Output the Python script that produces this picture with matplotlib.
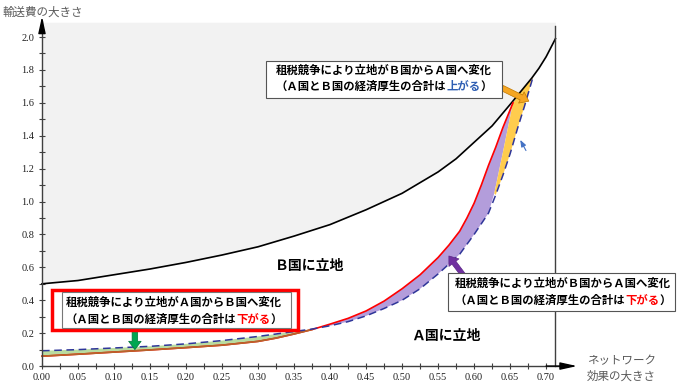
import numpy as np
import matplotlib
matplotlib.use("Agg")
import matplotlib.pyplot as plt
from matplotlib.patches import Rectangle, Polygon

plt.rcParams['font.family'] = ['Noto Sans CJK JP', 'DejaVu Sans']

# boundary between "B国に立地" and the grey area (black curve)
black_x = [0.0, 0.05, 0.10, 0.15, 0.20, 0.25, 0.30, 0.35, 0.40, 0.45,
           0.50, 0.55, 0.575, 0.60, 0.625, 0.65, 0.665, 0.68, 0.69, 0.70, 0.713]
black_y = [0.50, 0.52, 0.555, 0.59, 0.63, 0.675, 0.725, 0.79, 0.86, 0.95,
           1.05, 1.18, 1.26, 1.36, 1.46, 1.59, 1.67, 1.75, 1.81, 1.88, 1.99]

# original A/B boundary (red)
red_x = [0.0, 0.05, 0.10, 0.15, 0.20, 0.25, 0.30, 0.325, 0.35, 0.375,
         0.40, 0.425, 0.45, 0.475, 0.50, 0.525, 0.55, 0.565, 0.58, 0.59,
         0.60, 0.61, 0.62, 0.63, 0.64, 0.654]
red_y = [0.06, 0.072, 0.085, 0.098, 0.112, 0.127, 0.15, 0.17, 0.195, 0.222,
         0.255, 0.29, 0.335, 0.395, 0.47, 0.555, 0.66, 0.735, 0.82, 0.90,
         0.99, 1.10, 1.22, 1.33, 1.45, 1.60]

# boundary under tax competition (dashed)
dash_x = [0.0, 0.05, 0.10, 0.15, 0.20, 0.25, 0.30, 0.325, 0.35, 0.375,
          0.40, 0.425, 0.45, 0.475, 0.50, 0.525, 0.55, 0.565, 0.58, 0.59,
          0.60, 0.61, 0.62, 0.63, 0.64, 0.65, 0.66, 0.67, 0.682]
dash_y = [0.093, 0.10, 0.11, 0.12, 0.135, 0.155, 0.18, 0.195, 0.21, 0.225,
          0.245, 0.27, 0.305, 0.35, 0.40, 0.47, 0.56, 0.62, 0.68, 0.74,
          0.80, 0.865, 0.93, 1.04, 1.16, 1.29, 1.44, 1.58, 1.76]

# where red and dashed cross
cross_x, cross_y = 0.385, 0.232
# welfare-neutral divider between purple and yellow regions
div_x = [0.628, 0.641, 0.654]
div_y = [1.05, 1.32, 1.60]

y_top = 2.09
x_wall = 0.713

y_ticks = np.round(np.arange(0, 2.01, 0.2), 1)
x_ticks = np.round(np.arange(0, 0.701, 0.05), 2)

fig = plt.figure(figsize=(6.88, 3.84), dpi=100)
ax = fig.add_axes([0, 0, 1, 1])
ax.set_xlim(-0.0583, 0.897)
ax.set_ylim(-0.109, 2.225)

# grey region above the black curve
ax.fill_between(black_x, black_y, y_top, color='#f2f2f2', lw=0, zorder=1)

# green: A -> B
n_g = sum(1 for v in red_x if v < cross_x)
green = list(zip(red_x[:n_g], red_y[:n_g])) + [(cross_x, cross_y)] + \
    list(zip(dash_x[:n_g], dash_y[:n_g]))[::-1]
ax.add_patch(Polygon(green, closed=True, fc='#b9dca0', ec='none', zorder=2))

# purple: B -> A, welfare down
red_up = [(x, y) for x, y in zip(red_x, red_y) if x > cross_x]
dash_mid = [(x, y) for x, y in zip(dash_x, dash_y) if cross_x < x < div_x[0]]
purple = [(cross_x, cross_y)] + red_up + list(zip(div_x, div_y))[::-1] + dash_mid[::-1]
ax.add_patch(Polygon(purple, closed=True, fc='#b39ddb', ec='none', zorder=2))

# yellow: B -> A, welfare up
black_seg = [(x, y) for x, y in zip(black_x, black_y) if div_x[-1] < x < dash_x[-1]]
dash_top = [(x, y) for x, y in zip(dash_x, dash_y) if x > div_x[0]]
yellow = list(zip(div_x, div_y)) + black_seg + dash_top[::-1]
ax.add_patch(Polygon(yellow, closed=True, fc='#ffcc4d', ec='none', zorder=2))

# lines
ax.plot(black_x, black_y, color='black', lw=1.2, zorder=4)
ax.plot(red_x, red_y, color='#ff0000', lw=1.2, zorder=4)
ax.plot(red_x[:n_g], red_y[:n_g], color='#b5652b', lw=1.2, zorder=4)
ax.plot(dash_x, dash_y, color='#2f3699', lw=1.1, ls=(0, (5, 3)), zorder=4)
ax.plot([x_wall, x_wall], [0, 2.07], color='#404040', lw=1.0, zorder=4)

# axes
for side in ['top', 'right']:
    ax.spines[side].set_visible(False)
ax.spines['left'].set_position(('data', 0))
ax.spines['bottom'].set_position(('data', 0))
ax.spines['left'].set_bounds(0, 2.1)
ax.spines['bottom'].set_bounds(0, 0.73)
for side in ['left', 'bottom']:
    ax.spines[side].set_color('#404040')
    ax.spines[side].set_linewidth(1.0)
    ax.spines[side].set_zorder(6)

ax.set_xticks(x_ticks)
ax.set_xticklabels([f'{v:.2f}' for v in x_ticks])
ax.set_xticks(np.arange(0.025, 0.72, 0.05), minor=True)
ax.set_yticks(y_ticks)
ax.set_yticklabels([f'{v:.1f}' for v in y_ticks])
ax.set_yticks(np.arange(0.1, 2.05, 0.2), minor=True)
ax.tick_params(which='both', direction='inout', length=5, width=0.8, color='#404040')
ax.tick_params(axis='x', labelsize=7.5, labelcolor='#222222', pad=2.5)
ax.tick_params(axis='y', labelsize=7.5, labelcolor='#222222', pad=3.0)
for lab in ax.get_xticklabels() + ax.get_yticklabels():
    lab.set_fontfamily('Liberation Serif')

ax.annotate('', xy=(0, 2.125), xytext=(0, 2.06),
            arrowprops=dict(arrowstyle='-|>,head_width=0.22,head_length=1.0',
                            color='black', lw=1.0, shrinkA=0, shrinkB=0), zorder=7)
ax.annotate('', xy=(0.743, 0), xytext=(0.70, 0),
            arrowprops=dict(arrowstyle='-|>,head_width=0.22,head_length=1.0',
                            color='black', lw=1.0, shrinkA=0, shrinkB=0), zorder=7)

ax.text(-0.0555, 2.152, '輸送費の大きさ', fontsize=8.3, color='#595959',
        ha='left', va='center')
ax.text(0.757, -0.015, 'ネットワーク\n効果の大きさ', fontsize=8.3, color='#595959',
        ha='left', va='center', linespacing=1.2)

ax.text(0.372, 0.608, 'Ｂ国に立地', fontsize=10, fontweight='bold', ha='center', va='center')
ax.text(0.561, 0.182, 'Ａ国に立地', fontsize=10, fontweight='bold', ha='center', va='center')


def note_box(x0, y0, x1, y1, cx, ly1, ly2, line1, pre, hot, post, hot_color,
             fs=8.2, edge='#555555', lw=0.8):
    ax.add_patch(Rectangle((x0, y0), x1 - x0, y1 - y0, fc='white', ec=edge,
                           lw=lw, zorder=8))
    ax.text(cx, ly1, line1, fontsize=fs, fontweight='bold', ha='center',
            va='center', zorder=9)
    n = len(pre) + len(hot) + len(post)
    start = -n * fs / 2
    for s, c, off in [(pre, 'black', 0), (hot, hot_color, len(pre)),
                      (post, 'black', len(pre) + len(hot))]:
        ax.annotate(s, xy=(cx, ly2), xytext=(start + off * fs, 0),
                    textcoords='offset points', ha='left', va='center',
                    fontsize=fs, fontweight='bold', color=c, zorder=9)


note_box(0.311, 1.629, 0.639, 1.854, 0.475, 1.799, 1.698,
         '租税競争により立地がＢ国からＡ国へ変化',
         '（Ａ国とＢ国の経済厚生の合計は', '上がる', '）', '#2f5fb3')
note_box(0.564, 0.334, 0.879, 0.565, 0.723, 0.503, 0.401,
         '租税競争により立地がＢ国からＡ国へ変化',
         '（Ａ国とＢ国の経済厚生の合計は', '下がる', '）', '#ff0000')
ax.add_patch(Rectangle((0.028, 0.232), 0.318, 0.218, fc='none', ec='#777777',
                       lw=0.8, zorder=9))
note_box(0.0139, 0.219, 0.3556, 0.462, 0.183, 0.385, 0.286,
         '租税競争により立地がＡ国からＢ国へ変化',
         '（Ａ国とＢ国の経済厚生の合計は', '下がる', '）', '#ff0000',
         edge='#ff0000', lw=2.5)

# pointer arrows
ax.annotate('', xy=(0.129, 0.10), xytext=(0.129, 0.219),
            arrowprops=dict(arrowstyle='simple,head_width=0.9,head_length=0.6,tail_width=0.4',
                            fc='#00a651', ec='#00783a', lw=0.5, shrinkA=0, shrinkB=0),
            zorder=7)
ax.annotate('', xy=(0.565, 0.669), xytext=(0.586, 0.547),
            arrowprops=dict(arrowstyle='simple,head_width=0.9,head_length=0.6,tail_width=0.35',
                            fc='#7030a0', ec='#5a2585', lw=0.5, shrinkA=0, shrinkB=0),
            zorder=7)
ax.annotate('', xy=(0.676, 1.61), xytext=(0.639, 1.69),
            arrowprops=dict(arrowstyle='simple,head_width=0.9,head_length=0.6,tail_width=0.4',
                            fc='#f5a623', ec='#c07800', lw=0.5, shrinkA=0, shrinkB=0),
            zorder=7)
ax.annotate('', xy=(0.664, 1.375), xytext=(0.672, 1.31),
            arrowprops=dict(arrowstyle='-|>,head_width=0.15,head_length=0.4',
                            color='#4472c4', lw=0.8, shrinkA=0, shrinkB=0),
            zorder=7)

fig.savefig('out.png', dpi=100)
